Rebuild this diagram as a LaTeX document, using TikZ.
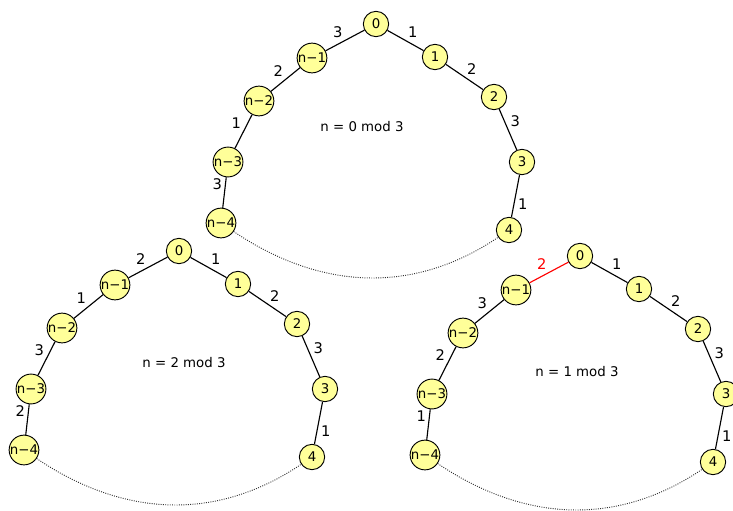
\documentclass[tikz,border=0pt]{standalone}
\usepackage{fontspec}
\setmainfont{DejaVu Sans}
\definecolor{vyellow}{RGB}{255,255,153}
\tikzset{
  vtx/.style={circle,draw,fill=vyellow,line width=0.7pt,minimum size=19pt,inner sep=0pt,font=\fontsize{10}{11}\selectfont},
  edg/.style={line width=0.85pt},
  lbl/.style={auto,inner sep=1.5pt,font=\fontsize{11}{12}\selectfont},
  gap/.style={densely dotted,line width=0.7pt,gray!40!black},
}

\begin{document}
\begin{tikzpicture}[x=0.75pt,y=-0.75pt]
  \useasboundingbox (0,0) rectangle (733,511);
  % n = 0 mod 3
  \begin{scope}[shift={(376,24)}]
    \node[vtx] (a0) at (0,0) {0};
    \node[vtx] (a1) at (59,33) {1};
    \node[vtx] (a2) at (118,73) {2};
    \node[vtx] (a3) at (146,138) {3};
    \node[vtx] (a4) at (133,206) {4};
    \node[vtx] (an1) at (-64,34) {n−1};
    \node[vtx] (an2) at (-117,77) {n−2};
    \node[vtx] (an3) at (-148,138) {n−3};
    \node[vtx] (an4) at (-155,199) {n−4};
    \draw[edg] (a0) -- node[lbl]{1} (a1) -- node[lbl]{2} (a2) -- node[lbl]{3} (a3) -- node[lbl]{1} (a4);
    \draw[edg] (an4) -- node[lbl]{3} (an3) -- node[lbl]{1} (an2) -- node[lbl]{2} (an1) -- node[lbl]{3} (a0);
    \draw[gap] (an4) to[out=-34,in=-146] (a4);
    \node (t0) at (-14,103) {n = 0 mod 3};
  \end{scope}
  % n = 2 mod 3
  \begin{scope}[shift={(179,251)}]
    \node[vtx] (b0) at (0,0) {0};
    \node[vtx] (b1) at (59,33) {1};
    \node[vtx] (b2) at (118,73) {2};
    \node[vtx] (b3) at (146,138) {3};
    \node[vtx] (b4) at (133,206) {4};
    \node[vtx] (bn1) at (-64,34) {n−1};
    \node[vtx] (bn2) at (-117,77) {n−2};
    \node[vtx] (bn3) at (-148,138) {n−3};
    \node[vtx] (bn4) at (-155,199) {n−4};
    \draw[edg] (b0) -- node[lbl]{1} (b1) -- node[lbl]{2} (b2) -- node[lbl]{3} (b3) -- node[lbl]{1} (b4);
    \draw[edg] (bn4) -- node[lbl]{2} (bn3) -- node[lbl]{3} (bn2) -- node[lbl]{1} (bn1) -- node[lbl]{2} (b0);
    \draw[gap] (bn4) to[out=-34,in=-146] (b4);
    \node (t2) at (5,112) {n = 2 mod 3};
  \end{scope}
  % n = 1 mod 3
  \begin{scope}[shift={(580,256)}]
    \node[vtx] (c0) at (0,0) {0};
    \node[vtx] (c1) at (59,33) {1};
    \node[vtx] (c2) at (118,73) {2};
    \node[vtx] (c3) at (146,138) {3};
    \node[vtx] (c4) at (133,206) {4};
    \node[vtx] (cn1) at (-64,34) {n−1};
    \node[vtx] (cn2) at (-117,77) {n−2};
    \node[vtx] (cn3) at (-148,138) {n−3};
    \node[vtx] (cn4) at (-155,199) {n−4};
    \draw[edg] (c0) -- node[lbl]{1} (c1) -- node[lbl]{2} (c2) -- node[lbl]{3} (c3) -- node[lbl]{1} (c4);
    \draw[edg] (cn4) -- node[lbl]{1} (cn3) -- node[lbl]{2} (cn2) -- node[lbl]{3} (cn1);
    \draw[edg,red] (cn1) -- node[lbl]{2} (c0);
    \draw[gap] (cn4) to[out=-34,in=-146] (c4);
    \node (t1) at (-3,116) {n = 1 mod 3};
  \end{scope}
\end{tikzpicture}
\end{document}
